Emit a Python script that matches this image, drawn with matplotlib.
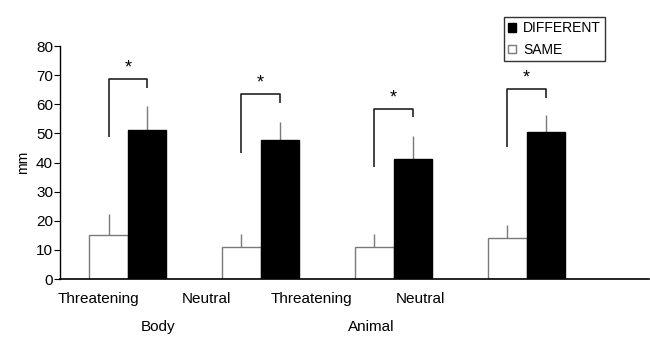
import numpy as np
import matplotlib.pyplot as plt

plt.rcParams['font.family'] = ['Liberation Sans', 'DejaVu Sans']

# data
stimuli = ['Threatening', 'Neutral', 'Threatening', 'Neutral']
groups = ['Body', 'Animal']
same_mean = [15.0, 11.0, 11.0, 14.0]
same_err = [7.3, 4.3, 4.4, 4.5]
diff_mean = [51.2, 47.7, 41.2, 50.6]
diff_err = [8.1, 6.3, 8.0, 5.7]
# significance brackets: left arm bottom, top, right arm bottom
br_left = [48.7, 43.4, 38.6, 45.4]
br_top = [68.5, 63.6, 58.5, 65.2]
br_right = [65.5, 60.4, 55.6, 62.1]

fig = plt.figure(figsize=(6.5, 3.37), dpi=100)
ax = fig.add_axes([0.0923, 0.172, 0.906, 0.6915])

x = np.arange(len(stimuli))
w = 0.29
grey = '#7a7a7a'

ax.bar(x - w/2, same_mean, w, color='white', edgecolor=grey, linewidth=1.0,
       label='SAME', zorder=2)
ax.bar(x + w/2, diff_mean, w, color='black', edgecolor='black', linewidth=1.0,
       label='DIFFERENT', zorder=2)
ax.errorbar(x - w/2, same_mean, yerr=[np.zeros(4), same_err], fmt='none',
            ecolor=grey, elinewidth=1.0, capsize=0, zorder=1)
ax.errorbar(x + w/2, diff_mean, yerr=[np.zeros(4), diff_err], fmt='none',
            ecolor=grey, elinewidth=1.0, capsize=0, zorder=1)

for i in range(len(x)):
    xl, xr = x[i] - w/2, x[i] + w/2
    ax.plot([xl, xl, xr, xr], [br_left[i], br_top[i], br_top[i], br_right[i]],
            color='#222222', linewidth=1.2, solid_capstyle='butt', zorder=3)
    ax.text(x[i], br_top[i] + 3.8, '*', ha='center', va='center', fontsize=13)

ax.set_xlim(-0.51, 3.92)
ax.set_ylim(0, 80)
ax.set_yticks(np.arange(0, 81, 10))
ax.tick_params(axis='y', labelsize=11, length=4, width=0.8, pad=1)
ax.set_ylabel('mm', fontsize=10, labelpad=4)

# category labels sit left of the bar pairs in the original
label_pos = [-0.22, 0.59, 1.38, 2.20]
ax.set_xticks(label_pos)
ax.set_xticklabels(stimuli, fontsize=11)
ax.tick_params(axis='x', length=0, pad=9)

group_pos = [0.225, 1.83]
for gx, g in zip(group_pos, groups):
    ax.text(gx, -0.206, g, transform=ax.get_xaxis_transform(),
            ha='center', va='center', fontsize=11)

ax.spines['top'].set_visible(False)
ax.spines['right'].set_visible(False)
ax.spines['left'].set_linewidth(1.0)
ax.spines['bottom'].set_linewidth(1.2)

handles, labels = ax.get_legend_handles_labels()
leg = fig.legend(handles[::-1], labels[::-1], loc='upper left',
                 bbox_to_anchor=(0.764, 0.97), fontsize=10, frameon=True,
                 fancybox=False, edgecolor='black', handlelength=0.6,
                 handleheight=0.6, handletextpad=0.5, borderpad=0.3,
                 labelspacing=0.55)
leg.get_frame().set_linewidth(1.0)

fig.savefig('out.png', dpi=100)
